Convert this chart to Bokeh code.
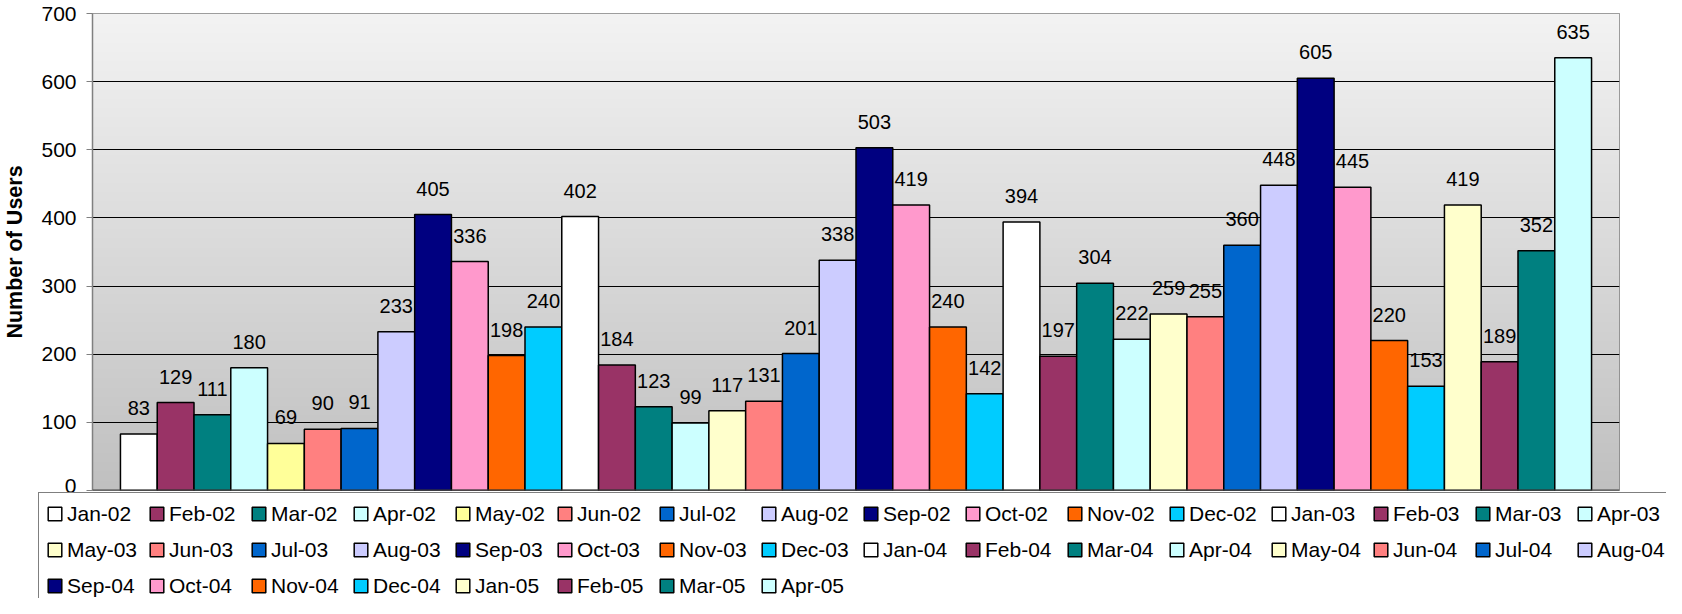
import numpy as np
from bokeh.plotting import figure
from bokeh.layouts import column
from bokeh.models import (ColumnDataSource, Range1d, FixedTicker, Legend, LegendItem,
                          LabelSet, Span)
from bokeh.core.properties import value
from bokeh.embed import file_html
from bokeh.resources import INLINE

months = ["Jan-02", "Feb-02", "Mar-02", "Apr-02", "May-02", "Jun-02", "Jul-02", "Aug-02",
          "Sep-02", "Oct-02", "Nov-02", "Dec-02", "Jan-03", "Feb-03", "Mar-03", "Apr-03",
          "May-03", "Jun-03", "Jul-03", "Aug-03", "Sep-03", "Oct-03", "Nov-03", "Dec-03",
          "Jan-04", "Feb-04", "Mar-04", "Apr-04", "May-04", "Jun-04", "Jul-04", "Aug-04",
          "Sep-04", "Oct-04", "Nov-04", "Dec-04", "Jan-05", "Feb-05", "Mar-05", "Apr-05"]
users = [83, 129, 111, 180, 69, 90, 91, 233, 405, 336, 198, 240,
         402, 184, 123, 99, 117, 131, 201, 338, 503, 419, 240, 142,
         394, 197, 304, 222, 259, 255, 360, 448, 605, 445, 220, 153,
         419, 189, 352, 635]
colors = ["#FFFFFF", "#993366", "#008080", "#CCFFFF", "#FFFF99", "#FF8080", "#0066CC", "#CCCCFF",
          "#000080", "#FF99CC", "#FF6600", "#00CCFF", "#FFFFFF", "#993366", "#008080", "#CCFFFF",
          "#FFFFCC", "#FF8080", "#0066CC", "#CCCCFF", "#000080", "#FF99CC", "#FF6600", "#00CCFF",
          "#FFFFFF", "#993366", "#008080", "#CCFFFF", "#FFFFCC", "#FF8080", "#0066CC", "#CCCCFF",
          "#000080", "#FF99CC", "#FF6600", "#00CCFF", "#FFFFCC", "#993366", "#008080", "#CCFFFF"]
y_ticks = [0, 100, 200, 300, 400, 500, 600, 700]

FONT = "Liberation Sans"
xs = list(range(len(months)))
src = ColumnDataSource(dict(x=xs, users=users, color=colors, label=[str(v) for v in users]))

x_lo, x_hi = -1.26, len(months) - 1 + 1.26
y_lo, y_hi = y_ticks[0], y_ticks[-1]

p = figure(width=1666, height=492, x_range=Range1d(x_lo, x_hi), y_range=Range1d(y_lo, y_hi),
           output_backend="svg", toolbar_location=None, x_axis_location=None,
           min_border_left=92, min_border_right=47, min_border_top=13, min_border_bottom=2)
p.frame_align = False
p.background_fill_color = None
p.border_fill_color = "white"
p.outline_line_color = "#808080"
p.outline_line_width = 1

# gradient fill of the plot area
n = 256
g = np.linspace(192, 243, n).astype(np.uint8)
img = np.empty((n, 1), dtype=np.uint32)
view = img.view(dtype=np.uint8).reshape((n, 1, 4))
view[:, 0, 0] = g
view[:, 0, 1] = g
view[:, 0, 2] = g
view[:, 0, 3] = 255
p.image_rgba(image=[img], x=x_lo, y=y_lo, dw=x_hi - x_lo, dh=y_hi - y_lo, level="image")

bars = p.vbar(x="x", top="users", bottom=0, width=1.0, source=src,
              fill_color="color", line_color="black", line_width=1.5)

labels = LabelSet(x="x", y="users", text="label", source=src, text_align="center",
                  text_baseline="alphabetic", y_offset=19, text_font=value(FONT),
                  text_font_size="20px", text_color="black")
p.add_layout(labels)
p.add_layout(Span(location=0, dimension="width", line_color="#404040", line_width=2))

p.yaxis.ticker = FixedTicker(ticks=y_ticks)
p.yaxis.major_label_text_font = FONT
p.yaxis.major_label_text_font_size = "21px"
p.yaxis.major_label_text_color = "black"
p.yaxis.major_label_standoff = 10
p.yaxis.major_tick_out = 6
p.yaxis.major_tick_in = 0
p.yaxis.minor_tick_line_color = None
p.yaxis.major_tick_line_color = "#808080"
p.yaxis.axis_line_color = "#808080"
p.yaxis.axis_line_width = 1.5
p.yaxis.axis_label = "Number of Users"
p.yaxis.axis_label_text_font = FONT
p.yaxis.axis_label_text_font_style = "bold"
p.yaxis.axis_label_text_font_size = "21.5px"
p.yaxis.axis_label_text_color = "black"
p.yaxis.axis_label_standoff = 11

p.xgrid.visible = False
p.ygrid.ticker = FixedTicker(ticks=y_ticks[1:-1])
p.ygrid.grid_line_color = "black"
p.ygrid.grid_line_width = 1

# legend strip below the chart (its bars lie outside its visible range)
p2 = figure(width=1666, height=106, x_range=Range1d(x_lo, x_hi), y_range=Range1d(1000, 1001),
            output_backend="svg", toolbar_location=None, x_axis_location=None,
            y_axis_location=None, min_border_left=38, min_border_right=0,
            min_border_top=0, min_border_bottom=0)
p2.frame_align = False
p2.outline_line_color = None
p2.background_fill_color = "white"
p2.border_fill_color = "white"
p2.grid.visible = False
bars2 = p2.vbar(x="x", top="users", bottom=0, width=1.0, source=src,
                fill_color="color", line_color="black", line_width=1.5)

items = [LegendItem(label=m, renderers=[bars2], index=i) for i, m in enumerate(months)]
legend = Legend(items=items, location="top_left", orientation="horizontal", ncols=16,
                glyph_width=17, glyph_height=17, label_standoff=4, label_width=72,
                label_height=27, spacing=9, padding=7, margin=0,
                label_text_font=FONT, label_text_font_size="21px", label_text_color="black",
                border_line_color="black", border_line_width=1,
                background_fill_color="white", background_fill_alpha=1.0)
p2.add_layout(legend)

layout = column(p, p2, spacing=0)
open("out.html", "w").write(file_html(layout, INLINE))
